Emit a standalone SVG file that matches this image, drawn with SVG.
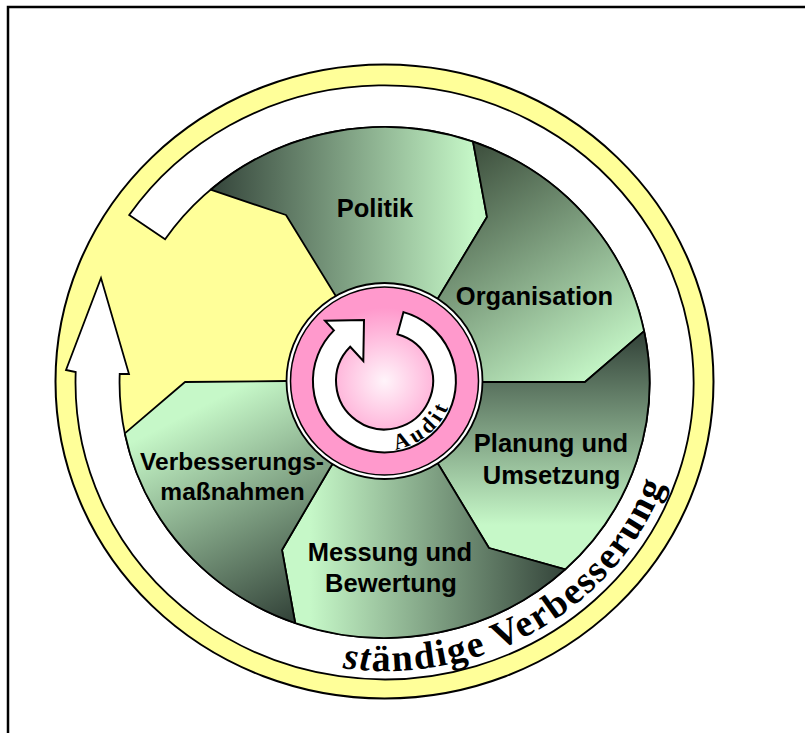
<svg xmlns="http://www.w3.org/2000/svg" width="805" height="733" viewBox="0 0 805 733">
<defs>
<style>
.seg{stroke:#000;stroke-width:1.8;stroke-linejoin:round}
.lbl{font-family:"Liberation Sans",Arial,sans-serif;font-weight:bold;font-size:25.5px;fill:#000;text-anchor:middle}
.serif{font-family:"Liberation Serif","Times New Roman",serif;font-weight:bold;fill:#000}
</style>
<linearGradient id="gPol" gradientUnits="userSpaceOnUse" x1="210" y1="0" x2="475" y2="0"><stop offset="0" stop-color="#34443a"/><stop offset="1" stop-color="#c6f8c8"/></linearGradient>
<linearGradient id="gOrg" gradientUnits="userSpaceOnUse" x1="470" y1="150" x2="610" y2="370"><stop offset="0" stop-color="#3e503e"/><stop offset="1" stop-color="#c6f8c8"/></linearGradient>
<linearGradient id="gPla" gradientUnits="userSpaceOnUse" x1="0" y1="335" x2="0" y2="525"><stop offset="0" stop-color="#34443a"/><stop offset="1" stop-color="#c6f8c8"/></linearGradient>
<linearGradient id="gMes" gradientUnits="userSpaceOnUse" x1="565" y1="0" x2="310" y2="0"><stop offset="0" stop-color="#34443a"/><stop offset="1" stop-color="#c6f8c8"/></linearGradient>
<linearGradient id="gVer" gradientUnits="userSpaceOnUse" x1="195" y1="410" x2="300" y2="615"><stop offset="0" stop-color="#c6f8c8"/><stop offset="1" stop-color="#34443a"/></linearGradient>
<radialGradient id="pink" cx="384.5" cy="381" r="94" gradientUnits="userSpaceOnUse"><stop offset="0" stop-color="#fff4fa"/><stop offset="0.55" stop-color="#ffb3d9"/><stop offset="0.78" stop-color="#ff99cc"/><stop offset="1" stop-color="#ff99cc"/></radialGradient>
<path id="auditPath" d="M 395.5,449.3 A 69 69 0 0 0 452.5,392.6" fill="none"/>
<path id="svPath" d="M 342.7,668.2 A 299 288 0 0 0 683.5,382.5" fill="none"/>
</defs>

<rect x="8" y="7" width="820" height="760" fill="#fff" stroke="#000" stroke-width="2.5"/>

<g id="background-disk">
<ellipse cx="384.5" cy="381.5" rx="329" ry="317" fill="#ffff99" stroke="#000" stroke-width="2"/>
</g>

<g id="connectors">
<path id="improvement-arrow" d="M 129.2,215.1 A 309 297 0 1 1 75.7,372 L 66,370 L 101,278 L 129,374 L 119.7,374 A 265 255.5 0 1 0 165.1,239.3 Z" fill="#fff" stroke="#000" stroke-width="1.8" stroke-linejoin="miter"/>
</g>

<g id="node-politik">
<path class="seg" fill="url(#gPol)" d="M 210.6,189.7 A 265 255.5 0 0 1 473,141.7 L 487,217 L 437,300 L 384.5,381 L 337,298 L 286,215 Z"/>
<text class="lbl" x="375" y="217">Politik</text>
</g>
<g id="node-organisation">
<path class="seg" fill="url(#gOrg)" d="M 473,141.7 A 265 255.5 0 0 1 644.1,331.1 L 585,382 L 483,382 L 384.5,381 L 437,300 L 487,217 Z"/>
<text class="lbl" x="534.5" y="305">Organisation</text>
</g>
<g id="node-planung">
<path class="seg" fill="url(#gPla)" d="M 644.1,331.1 A 265 255.5 0 0 1 565.2,569.4 L 489,548 L 440,467 L 384.5,381 L 483,382 L 585,382 Z"/>
<text class="lbl" x="551" y="452">Planung und</text>
<text class="lbl" x="551.5" y="484">Umsetzung</text>
</g>
<g id="node-messung">
<path class="seg" fill="url(#gMes)" d="M 565.2,569.4 A 265 255.5 0 0 1 295.2,623 L 282,550 L 330,468 L 384.5,381 L 440,467 L 489,548 Z"/>
<text class="lbl" x="390" y="561">Messung und</text>
<text class="lbl" x="391" y="592">Bewertung</text>
</g>
<g id="node-verbesserung">
<path class="seg" fill="url(#gVer)" d="M 295.2,623 A 265 255.5 0 0 1 124.8,433.4 L 185,382 L 287,381 L 384.5,381 L 330,468 L 282,550 Z"/>
<text class="lbl" x="232" y="470" style="font-size:24.5px">Verbesserungs-</text>
<text class="lbl" x="232.5" y="500" style="font-size:24.5px">maßnahmen</text>
</g>

<g id="node-audit">
<circle cx="384.5" cy="381" r="98" fill="#fff" stroke="#000" stroke-width="1.8"/>
<circle cx="384.5" cy="381" r="94" fill="url(#pink)" stroke="#000" stroke-width="1.5"/>
<path d="M 403.5,312.1 A 71.5 71.5 0 1 1 333.9,330.4 L 325,320.7 L 364,320 L 363.3,361 L 350.2,346.7 A 48.5 48.5 0 1 0 397.4,334.2 Z" fill="#fff" stroke="#000" stroke-width="2"/>
<text class="serif" font-size="22" letter-spacing="4"><textPath href="#auditPath">Audit</textPath></text>
</g>

<g id="label-staendige">
<text class="serif" font-size="38" letter-spacing="1.8"><textPath href="#svPath"><tspan font-style="italic">st</tspan>ändige Verbesserung</textPath></text>
</g>
</svg>
